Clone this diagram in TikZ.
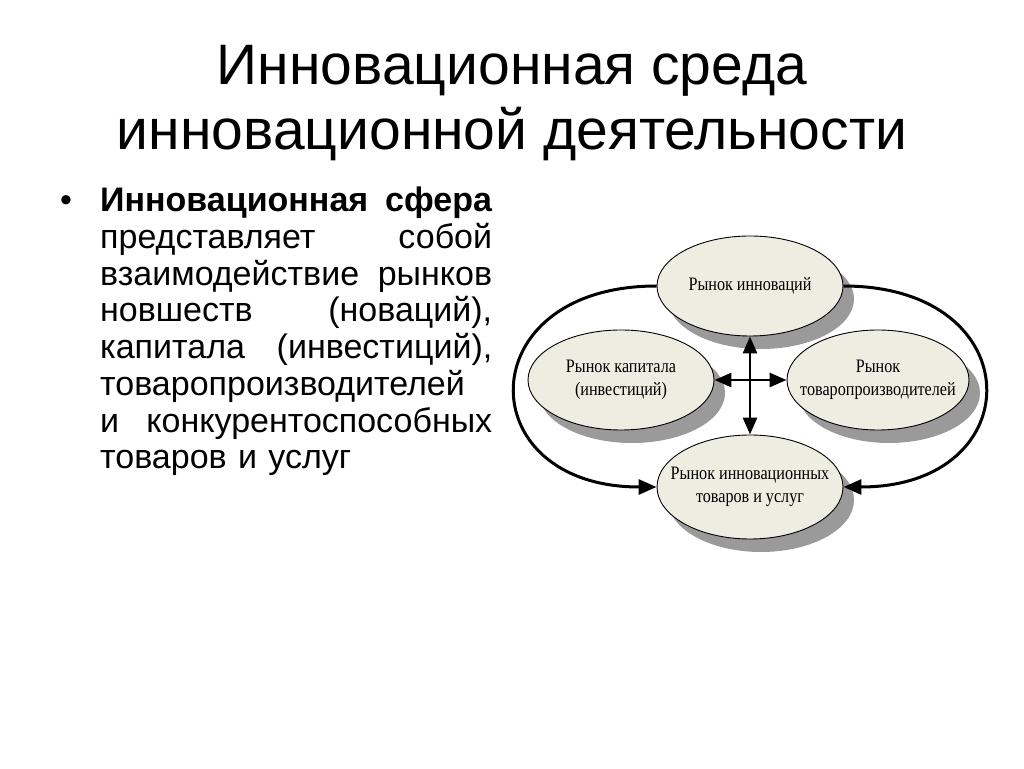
\documentclass[tikz,border=0pt]{standalone}
\usepackage{fontspec}
\setmainfont{Liberation Sans}
\newfontfamily\serifru[FakeStretch=0.85]{Liberation Serif}
\usetikzlibrary{arrows.meta,shapes.geometric,shadows}
\definecolor{ovalfill}{HTML}{EDEDE2}
\definecolor{ovalshade}{HTML}{9A9A9A}
\newcommand{\jline}[2]{\makebox[392pt][l]{#1\hfill #2}}
\newcommand{\lline}[1]{\makebox[392pt][l]{#1}}

\begin{document}
\begin{tikzpicture}[x=1pt,y=1pt,
  market/.style={ellipse,draw=black,line width=0.9pt,fill=ovalfill,
    minimum width=186pt,minimum height=100pt,inner xsep=-40pt,inner ysep=0pt,
    align=center,font=\serifru\fontsize{19}{22.5}\selectfont,
    drop shadow={shadow xshift=11pt,shadow yshift=-13pt,fill=ovalshade,opacity=1}},
  loop/.style={line width=3pt,-{Triangle[length=18pt,width=15pt]}},
  cross/.style={line width=2.8pt,{Triangle[length=17pt,width=14pt]}-{Triangle[length=17pt,width=14pt]}}]
  \useasboundingbox (0,0) rectangle (1024,768);
  % heading
  \node[anchor=north,align=center,inner sep=0pt,font=\fontsize{57}{65}\selectfont]
    (title) at (512,723) {Инновационная среда\\инновационной деятельности};
  % bullet with the definition
  \node[anchor=base,inner sep=0pt,font=\fontsize{34}{36.7}\selectfont] (dot) at (66,556) {•};
  \node[anchor=north west,inner sep=0pt,text width=392pt,align=left,
    font=\fontsize{34}{36.7}\selectfont] (body) at (100,581) {%
    \jline{\textbf{Инновационная}}{\textbf{сфера}}\\
    \jline{представляет}{собой}\\
    \jline{взаимодействие}{рынков}\\
    \jline{новшеств}{(новаций),}\\
    \jline{капитала}{(инвестиций),}\\
    \lline{товаропроизводителей}\\
    \jline{и}{конкурентоспособных}\\
    \lline{товаров и услуг}};
  % four markets
  \node[market] (innov) at (750,482) {Рынок инноваций};
  \node[market] (capital) at (621,388) {Рынок капитала\\(инвестиций)};
  \node[market,minimum width=182pt] (prod) at (878,388) {Рынок\\товаропроизводителей};
  \node[market,minimum height=104pt] (goods) at (750,281) {Рынок инновационных\\товаров и услуг};
  % links between them
  \draw[cross] (innov.south) -- (goods.north);
  \draw[cross] (capital.east) -- (prod.west);
  \draw[loop] (innov.west) to[out=180,in=180,looseness=2.4] (goods.west);
  \draw[loop] (innov.east) to[out=0,in=0,looseness=2.4] (goods.east);
\end{tikzpicture}
\end{document}
